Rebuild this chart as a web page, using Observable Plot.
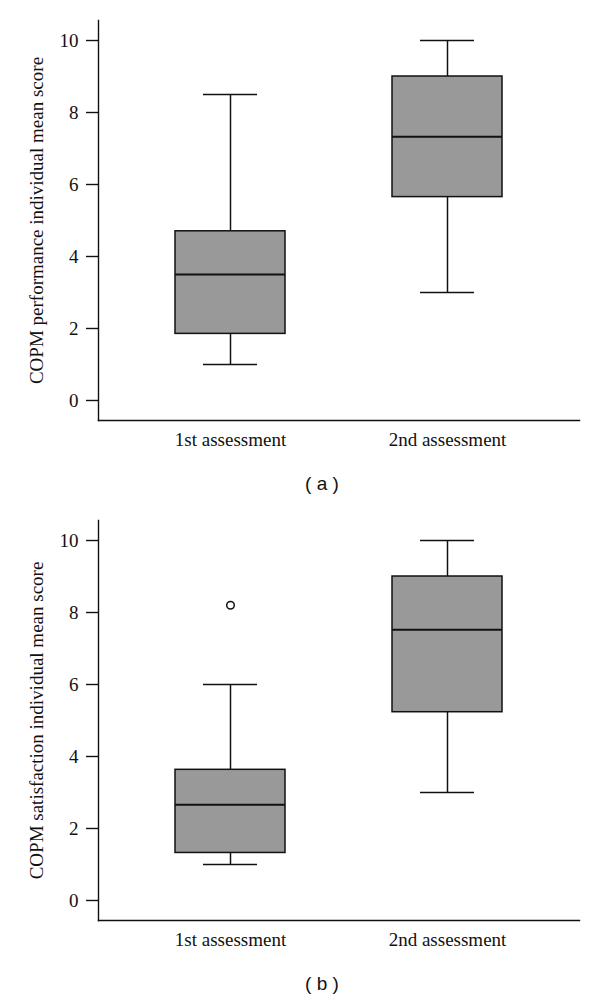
<!DOCTYPE html>
<html>
<head>
<meta charset="utf-8">
<script src="https://cdn.jsdelivr.net/npm/d3@7"></script>
<script src="https://cdn.jsdelivr.net/npm/@observablehq/plot@0.6"></script>
<style>
  html, body { margin: 0; padding: 0; background: #fff; }
  .panel { width: 600px; height: 500px; position: relative; }
  .cap { position: absolute; left: 0; width: 600px; top: 472px; text-align: center; padding-left: 44px; box-sizing: border-box;
         font-family: "Liberation Sans", Arial, sans-serif; font-size: 19px; line-height: 24px; color: #111; }
</style>
</head>
<body>
<div id="a" class="panel"></div>
<div id="b" class="panel"></div>
<script>
const categories = ["1st assessment", "2nd assessment"];
const yTicks = [0, 2, 4, 6, 8, 10];

// Panel (a): COPM performance
const perfMin    = [1.0, 3.0];
const perfQ1     = [1.85, 5.65];
const perfMedian = [3.5, 7.33];
const perfQ3     = [4.7, 9.0];
const perfMax    = [8.5, 10.0];
const perfOutliers = [];

// Panel (b): COPM satisfaction
const satMin    = [1.0, 3.0];
const satQ1     = [1.32, 5.23];
const satMedian = [2.66, 7.52];
const satQ3     = [3.63, 9.0];
const satMax    = [6.0, 10.0];
const satOutliers = [{cat: "1st assessment", value: 8.2}];

function makeRows(mins, q1s, meds, q3s, maxs) {
  return categories.map((c, i) => ({cat: c, min: mins[i], q1: q1s[i], median: meds[i], q3: q3s[i], max: maxs[i]}));
}

function chart(rows, outliers, label) {
  return Plot.plot({
    width: 600,
    height: 460,
    marginLeft: 98,
    marginRight: 21,
    marginTop: 20,
    marginBottom: 40,
    style: {fontFamily: "'Liberation Serif', 'Times New Roman', serif", fontSize: "19px", color: "#111", background: "#fff"},
    x: {type: "band", domain: categories, paddingInner: 0.494, paddingOuter: 0.353},
    y: {domain: [-0.556, 10.556]},
    marks: [
      Plot.frame({anchor: "left", stroke: "#111", strokeWidth: 1.4}),
      Plot.frame({anchor: "bottom", stroke: "#111", strokeWidth: 1.4}),
      Plot.axisY({ticks: yTicks, tickSize: 12, tickPadding: 8, fontSize: 19, stroke: "#111", strokeWidth: 1.4,
                  label: label, labelAnchor: "center", labelArrow: "none", labelOffset: 69}),
      Plot.axisX({tickSize: 0, tickPadding: 12, fontSize: 19, label: null}),
      Plot.ruleX(rows, {x: "cat", y1: "min", y2: "q1", stroke: "#111", strokeWidth: 1.5}),
      Plot.ruleX(rows, {x: "cat", y1: "q3", y2: "max", stroke: "#111", strokeWidth: 1.5}),
      Plot.tickY(rows, {x: "cat", y: "min", insetLeft: 28, insetRight: 28, stroke: "#111", strokeWidth: 1.5}),
      Plot.tickY(rows, {x: "cat", y: "max", insetLeft: 28, insetRight: 28, stroke: "#111", strokeWidth: 1.5}),
      Plot.barY(rows, {x: "cat", y1: "q1", y2: "q3", fill: "#999999", stroke: "#111", strokeWidth: 1.5}),
      Plot.tickY(rows, {x: "cat", y: "median", stroke: "#111", strokeWidth: 2}),
      Plot.dot(outliers, {x: "cat", y: "value", r: 3.8, stroke: "#111", fill: "#fff", strokeWidth: 1.5})
    ]
  });
}

const a = document.getElementById("a");
a.appendChild(chart(makeRows(perfMin, perfQ1, perfMedian, perfQ3, perfMax), perfOutliers, "COPM performance individual mean score"));
const capA = document.createElement("div"); capA.className = "cap"; capA.textContent = "( a )"; a.appendChild(capA);

const b = document.getElementById("b");
b.appendChild(chart(makeRows(satMin, satQ1, satMedian, satQ3, satMax), satOutliers, "COPM satisfaction individual mean score"));
const capB = document.createElement("div"); capB.className = "cap"; capB.textContent = "( b )"; b.appendChild(capB);
</script>
</body>
</html>
